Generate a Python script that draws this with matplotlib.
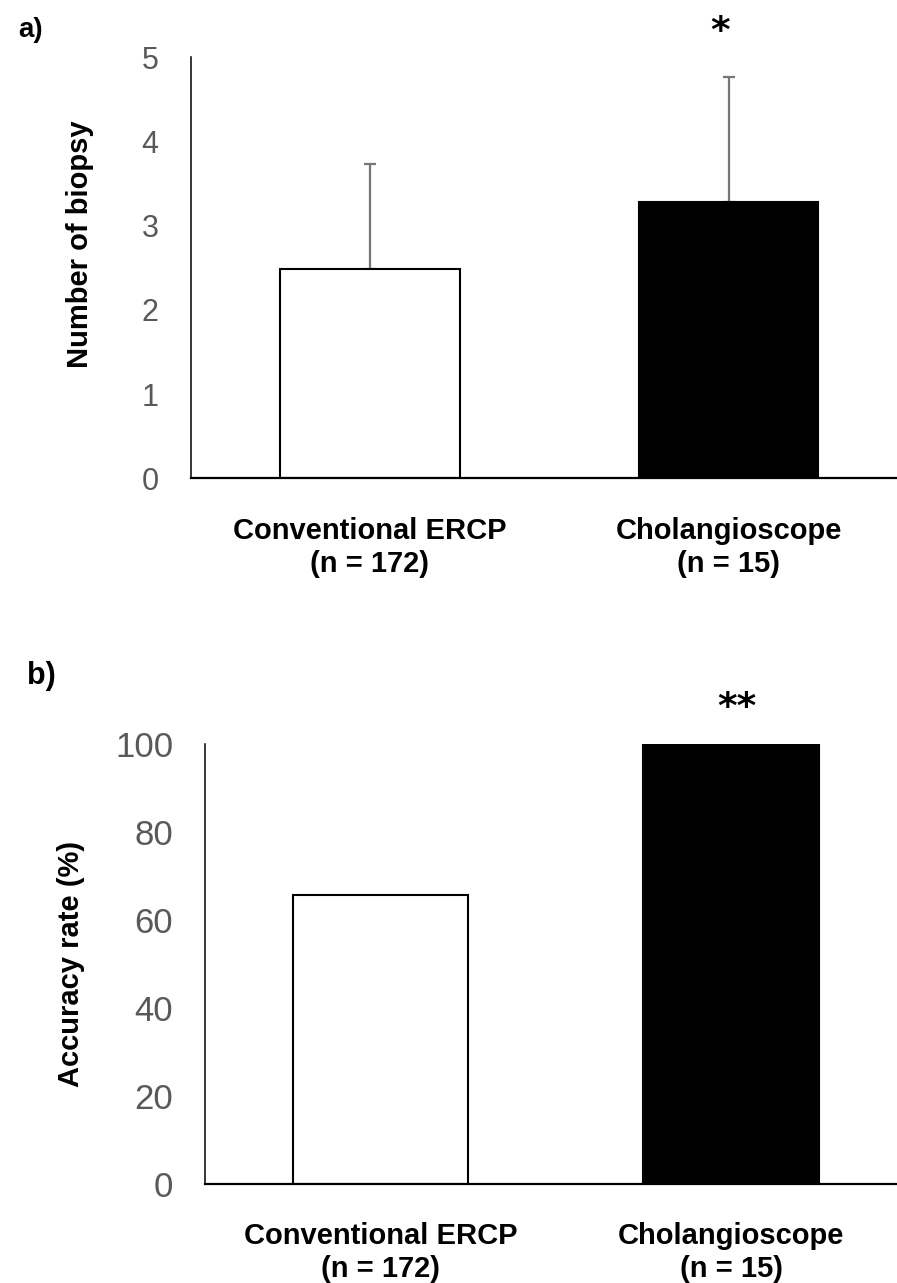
import matplotlib
matplotlib.use("Agg")
import matplotlib.pyplot as plt
import numpy as np

plt.rcParams['font.family'] = ['Liberation Sans', 'DejaVu Sans']

# data
groups = ["Conventional ERCP\n(n = 172)", "Cholangioscope\n(n = 15)"]
biopsy_mean = [2.49, 3.28]
biopsy_sd = [1.24, 1.49]
accuracy = [65.6, 100.0]
bar_colors = ["white", "black"]

tick_grey = "#595959"
err_grey = "#767676"

fig = plt.figure(figsize=(8.97, 12.83), dpi=100)

ax1 = fig.add_axes([0.2124, 0.6272, 0.7999, 0.3281])
ax2 = fig.add_axes([0.2285, 0.0775, 0.7820, 0.3426])

x = np.arange(len(groups))


def style_axis(ax, ysize):
    for side in ("top", "right"):
        ax.spines[side].set_visible(False)
    ax.spines["left"].set_linewidth(1.1)
    ax.spines["bottom"].set_linewidth(1.6)
    ax.set_xlim(-0.5, 1.5)
    ax.set_xticks(x)
    ax.set_xticklabels(groups, fontsize=21, fontweight="bold",
                       multialignment="center")
    ax.tick_params(axis="x", length=0, pad=28)
    ax.tick_params(axis="y", length=0, pad=23, labelsize=ysize,
                   labelcolor=tick_grey)


# a) number of biopsies
ax1.bar(x, biopsy_mean, width=0.5, color=bar_colors, edgecolor="black",
        linewidth=1.5, zorder=2)
ax1.errorbar(x, biopsy_mean, yerr=[np.zeros(2), biopsy_sd], fmt="none",
             ecolor=err_grey, elinewidth=1.6, capsize=4.3, capthick=1.6,
             zorder=1)
ax1.set_ylim(0, 5)
ax1.set_yticks(range(0, 6))
style_axis(ax1, 22)
ax1.text(0.976, 5.30, "*", ha="center", va="center", fontsize=27,
         fontweight="bold", family="DejaVu Sans", clip_on=False)

# b) accuracy rate
ax2.bar(x, accuracy, width=0.5, color=bar_colors, edgecolor="black",
        linewidth=1.5, zorder=2)
ax2.set_ylim(0, 100)
ax2.set_yticks(range(0, 101, 20))
style_axis(ax2, 25)
ax2.text(1.016, 108.2, "**", ha="center", va="center", fontsize=27,
         fontweight="bold", family="DejaVu Sans", clip_on=False)

fig.text(0.089, 0.8098, "Number of biopsy", rotation=90, ha="center",
         va="center", fontsize=21, fontweight="bold")
fig.text(0.079, 0.249, "Accuracy rate (%)", rotation=90, ha="center",
         va="center", fontsize=21, fontweight="bold")

fig.text(0.02, 0.9766, "a)", ha="left", va="center", fontsize=20,
         fontweight="bold")
fig.text(0.03, 0.473, "b)", ha="left", va="center", fontsize=22,
         fontweight="bold")

fig.savefig("out.png", dpi=100)
